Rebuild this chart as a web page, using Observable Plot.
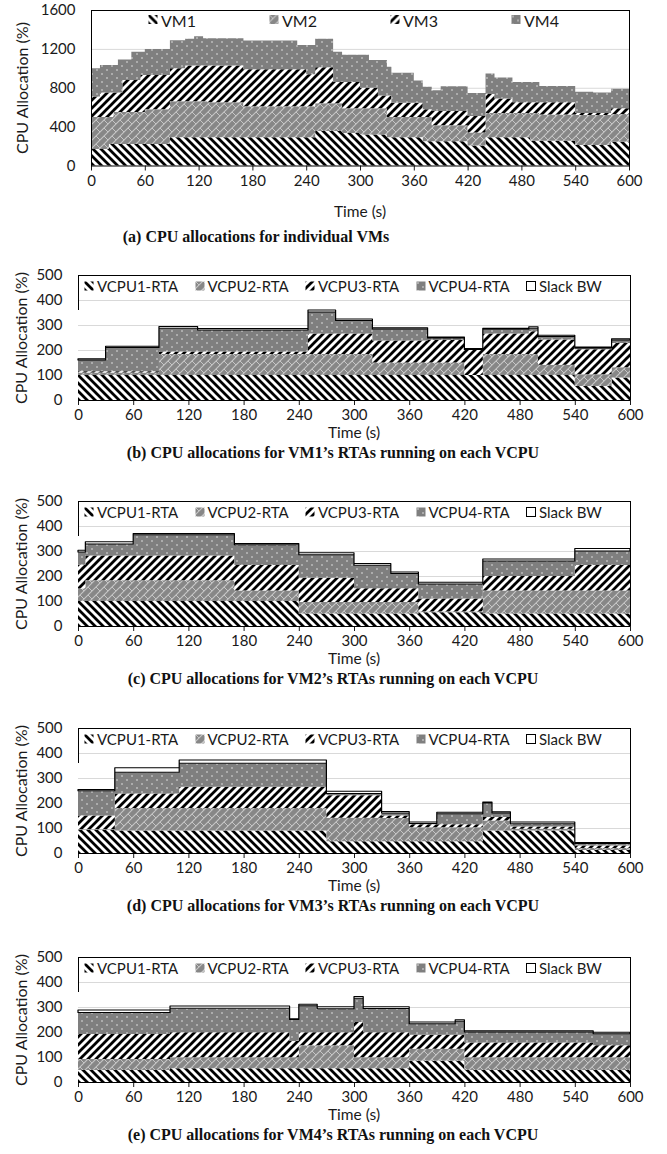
<!DOCTYPE html>
<html><head><meta charset="utf-8">
<script src="https://cdn.jsdelivr.net/npm/d3@7"></script>
<script src="https://cdn.jsdelivr.net/npm/@observablehq/plot@0.6"></script>
<style>
html,body{margin:0;padding:0;background:#fff;}
body{width:667px;height:1154px;position:relative;overflow:hidden;font-family:Lato,"Open Sans",sans-serif;color:#1a1a1a;}
.panel{position:absolute;left:0;}
.ylab{position:absolute;font-size:16px;transform:translate(-50%,-50%) rotate(-90deg);white-space:nowrap;}
.xlab{position:absolute;font-size:15.5px;transform:translate(-50%,-50%);white-space:nowrap;}
.cap{position:absolute;font-family:"Liberation Serif","DejaVu Serif",serif;font-weight:bold;font-size:16px;transform:translate(-50%,-50%);white-space:nowrap;color:#111;}
.leg{position:absolute;display:flex;align-items:center;white-space:nowrap;transform:translateY(-50%);}
.leg svg{margin-right:3px;}
.lbox{position:absolute;border-left:1px solid #000;}
</style>
</head><body>
<svg width="0" height="0" style="position:absolute">
<defs>
<pattern id="pat0" patternUnits="userSpaceOnUse" width="8" height="8">
<rect width="8" height="8" fill="#fff"/>
<path d="M-2,-2L10,10M-2,6L2,10M6,-2L10,2" stroke="#000" stroke-width="2.8"/>
</pattern>
<pattern id="pat1" patternUnits="userSpaceOnUse" width="8" height="8">
<rect width="8" height="8" fill="#878787"/>
<path d="M-2,10L10,-2M-2,2L2,-2M6,10L10,6" stroke="#c6c6c6" stroke-width="1.1"/>
<path d="M0,0L4,4" stroke="#c6c6c6" stroke-width="1"/>
</pattern>
<pattern id="pat2" patternUnits="userSpaceOnUse" width="8" height="8">
<rect width="8" height="8" fill="#fff"/>
<path d="M-2,10L10,-2M-2,2L2,-2M6,10L10,6" stroke="#000" stroke-width="2.8"/>
</pattern>
<pattern id="pat3" patternUnits="userSpaceOnUse" width="10" height="8">
<rect width="10" height="8" fill="#7f7f7f"/>
<circle cx="2" cy="2" r="0.8" fill="#e6e6e6"/>
<circle cx="7" cy="6" r="0.8" fill="#e6e6e6"/>
</pattern>
<pattern id="pat4" patternUnits="userSpaceOnUse" width="8" height="8">
<rect width="8" height="8" fill="#fff"/>
</pattern>
</defs>
</svg>
<script>
// ---------- data ----------
const xTicks = [0, 60, 120, 180, 240, 300, 360, 420, 480, 540, 600];
const yTicksA = [0, 400, 800, 1200, 1600];
const yTicksV = [0, 100, 200, 300, 400, 500];

const vmNames = ["VM1", "VM2", "VM3", "VM4"];
const rtaNames = ["VCPU1-RTA", "VCPU2-RTA", "VCPU3-RTA", "VCPU4-RTA", "Slack BW"];

// (a) CPU allocations for individual VMs (step starts, %)
const timeA = [0,10,20,25,30,35,45,55,60,88,105,115,125,130,170,230,240,250,270,280,300,310,320,330,335,360,370,380,390,420,440,450,470,490,500,540,560,580,600];
const vm1 = [170,170,220,220,220,220,220,220,220,290,290,290,290,290,290,290,290,355,355,335,320,320,320,290,290,290,250,250,250,205,290,290,290,255,255,210,210,245,245];
const vm2 = [330,330,280,330,330,330,330,330,360,370,370,370,370,360,320,320,320,285,285,255,270,270,270,210,210,210,250,165,165,135,250,250,250,285,270,310,310,285,285];
const vm3 = [210,250,250,200,200,330,330,380,350,340,370,370,370,380,380,380,330,370,220,270,210,210,130,220,145,145,80,145,145,170,195,150,110,110,125,20,20,60,60];
const vm4 = [290,285,285,285,340,210,290,240,270,290,275,300,280,280,295,250,300,295,310,280,340,285,365,295,310,230,230,215,255,236,211,215,210,210,168,220,210,200,200];

// (b) VM1's RTAs
const timeB = [0,30,88,130,250,280,320,380,420,440,490,500,540,580,600];
const b1 = [100,100,100,100,100,100,100,100,100,100,100,100,56,90,90];
const b2 = [10,10,84,84,84,84,50,50,0,84,84,41,47,41,41];
const b3 = [5,5,10,10,82,82,88,90,100,82,91,101,100,97,97];
const b4 = [45,95,93,86,86,52,46,8,2,17,12,12,5,12,12];
const bS = [5,5,7,6,8,6,5,4,4,4,6,5,4,5,5];

// (c) VM2's RTAs
const timeC = [0,8,60,170,240,300,340,370,440,540,600];
const c1 = [100,100,100,100,50,50,50,55,50,50,50];
const c2 = [50,83,83,42,46,46,46,3,92,92,92];
const c3 = [95,99,99,102,97,55,55,52,58,102,102];
const c4 = [51,46,83,81,92,92,59,58,60,56,56];
const cS = [7,9,5,5,8,7,6,7,8,10,10];

// (d) VM3's RTAs
const timeD = [0,40,110,270,330,360,390,440,450,470,540,600];
const d1 = [92,90,90,47,47,47,47,90,90,90,12,12];
const d2 = [3,90,90,94,93,56,56,40,40,7,8,8];
const d3 = [55,58,85,90,10,12,12,14,14,9,10,10];
const d4 = [99,85,94,7,10,3,42,56,16,11,8,8];
const dS = [5,18,13,9,6,6,6,4,5,7,4,4];

// (e) VM4's RTAs
const timeE = [0,100,230,240,260,300,310,360,410,420,560,600];
const e1 = [48,55,55,55,55,55,55,85,85,48,48,48];
const e2 = [44,44,44,92,92,44,44,48,48,51,51,51];
const e3 = [100,100,65,52,52,141,100,56,56,59,48,48];
const e4 = [86,96,86,106,94,95,95,44,54,42,46,46];
const eS = [10,9,3,6,8,7,7,7,6,5,6,6];

const captions = [
  "(a) CPU allocations for individual VMs",
  "(b) CPU allocations for VM1\u2019s RTAs running on each VCPU",
  "(c) CPU allocations for VM2\u2019s RTAs running on each VCPU",
  "(d) CPU allocations for VM3\u2019s RTAs running on each VCPU",
  "(e) CPU allocations for VM4\u2019s RTAs running on each VCPU"
];

// ---------- helpers ----------
function stackRows(times, cols, names) {
  const rows = [];
  const base = times.map(() => 0);
  names.forEach((n, i) => {
    times.forEach((t, j) => {
      const y1 = base[j], y2 = base[j] + cols[i][j];
      rows.push({t, s: n, y1, y2});
      base[j] = y2;
    });
  });
  return rows;
}

function addDiv(cls, text, x, y, extra) {
  const d = document.createElement("div");
  d.className = cls;
  d.textContent = text;
  d.style.left = x + "px";
  d.style.top = y + "px";
  if (extra) Object.assign(d.style, extra);
  document.body.appendChild(d);
  return d;
}

function legendItem(name, idx, x, y, fontSize) {
  const d = document.createElement("div");
  d.className = "leg";
  d.style.left = x + "px";
  d.style.top = y + "px";
  d.style.fontSize = fontSize + "px";
  const stroke = name === "Slack BW" ? ' stroke="#000" stroke-width="1"' : "";
  d.innerHTML = `<svg width="10" height="10"><rect x="0.5" y="0.5" width="9" height="9" fill="url(#pat${idx})"${stroke}/></svg><span>${name}</span>`;
  document.body.appendChild(d);
}

function panel(cfg) {
  const rows = stackRows(cfg.times, cfg.cols, cfg.names);
  const plotTop = cfg.top + cfg.mt;
  const plotBottom = cfg.top + cfg.h - cfg.mb;
  const marks = [
    Plot.gridY(cfg.yTicks.filter(v => v > 0 && v < cfg.yMax), {stroke: "#d9d9d9", strokeOpacity: 1}),
    Plot.area(rows, {x1: "t", y1: "y1", y2: "y2", z: "s", fill: "s", curve: "step-after"})
  ];
  if (cfg.slack) {
    marks.push(Plot.area(rows.filter(d => d.s === cfg.slack), {x1: "t", y1: "y1", y2: "y2", fill: "#fff", stroke: "#000", strokeWidth: 1.2, curve: "step-after"}));
  }
  marks.push(Plot.axisX({ticks: xTicks, tickSize: 5, tickPadding: 4, label: null, tickFormat: d => String(d)}));
  marks.push(Plot.axisY({ticks: cfg.yTicks, tickSize: 0, tickPadding: 16, label: null, tickFormat: d => String(d)}));
  if (cfg.fullFrame) {
    marks.push(Plot.frame({stroke: "#000"}));
  } else {
    marks.push(Plot.ruleY([cfg.yMax], {stroke: "#000"}));
    marks.push(Plot.ruleX([600], {stroke: "#000"}));
    marks.push(Plot.ruleY([0], {stroke: "#000"}));
  }
  const svg = Plot.plot({
    width: 667, height: cfg.h,
    marginTop: cfg.mt, marginBottom: cfg.mb, marginLeft: cfg.ml, marginRight: cfg.mr,
    x: {domain: [0, 600]},
    y: {domain: [0, cfg.yMax]},
    color: {domain: cfg.names, range: cfg.names.map((_, i) => `url(#pat${i})`)},
    style: {fontFamily: "Lato, sans-serif", fontSize: "15px", color: "#1a1a1a", background: "transparent"},
    marks
  });
  const wrap = document.createElement("div");
  wrap.className = "panel";
  wrap.style.top = cfg.top + "px";
  wrap.appendChild(svg);
  document.body.appendChild(wrap);

  const plotLeft = cfg.ml, plotRight = 667 - cfg.mr;
  addDiv("ylab", "CPU Allocation (%)", cfg.ylabX, (plotTop + plotBottom) / 2);
  addDiv("xlab", "Time (s)", (plotLeft + plotRight) / 2, plotBottom + cfg.xlabDy);
  addDiv("cap", cfg.caption, cfg.capX, plotBottom + cfg.capDy);
  if (cfg.legendBox) {
    const b = document.createElement("div");
    b.className = "lbox";
    b.style.left = plotLeft + "px";
    b.style.top = plotTop + "px";
    b.style.height = "35px";
    document.body.appendChild(b);
  }
  cfg.names.forEach((n, i) => legendItem(n, i, cfg.legX0 + i * cfg.legDx, plotTop + cfg.legDy, cfg.legFont));
}

panel({top: 0, h: 195, mt: 10, mb: 29.5, ml: 91, mr: 38, times: timeA, cols: [vm1, vm2, vm3, vm4], names: vmNames,
  yMax: 1600, yTicks: yTicksA, fullFrame: true, ylabX: 21, xlabDy: 45, caption: captions[0], capX: 256, capDy: 71.5,
  legX0: 148, legDx: 121, legDy: 9.5, legFont: 16});

const vcfg = [
  {top: 265, times: timeB, cols: [b1, b2, b3, b4, bS], caption: captions[1]},
  {top: 491, times: timeC, cols: [c1, c2, c3, c4, cS], caption: captions[2]},
  {top: 718, times: timeD, cols: [d1, d2, d3, d4, dS], caption: captions[3]},
  {top: 947, times: timeE, cols: [e1, e2, e3, e4, eS], caption: captions[4]}
];
vcfg.forEach(c => panel(Object.assign({h: 165, mt: 10, mb: 30, ml: 78, mr: 37, names: rtaNames, yMax: 500, yTicks: yTicksV,
  fullFrame: false, slack: "Slack BW", ylabX: 20, xlabDy: 32, capX: 333, capDy: 53, legendBox: true,
  legX0: 84, legDx: 110.5, legDy: 10.7, legFont: 15}, c)));
</script>
</body></html>
